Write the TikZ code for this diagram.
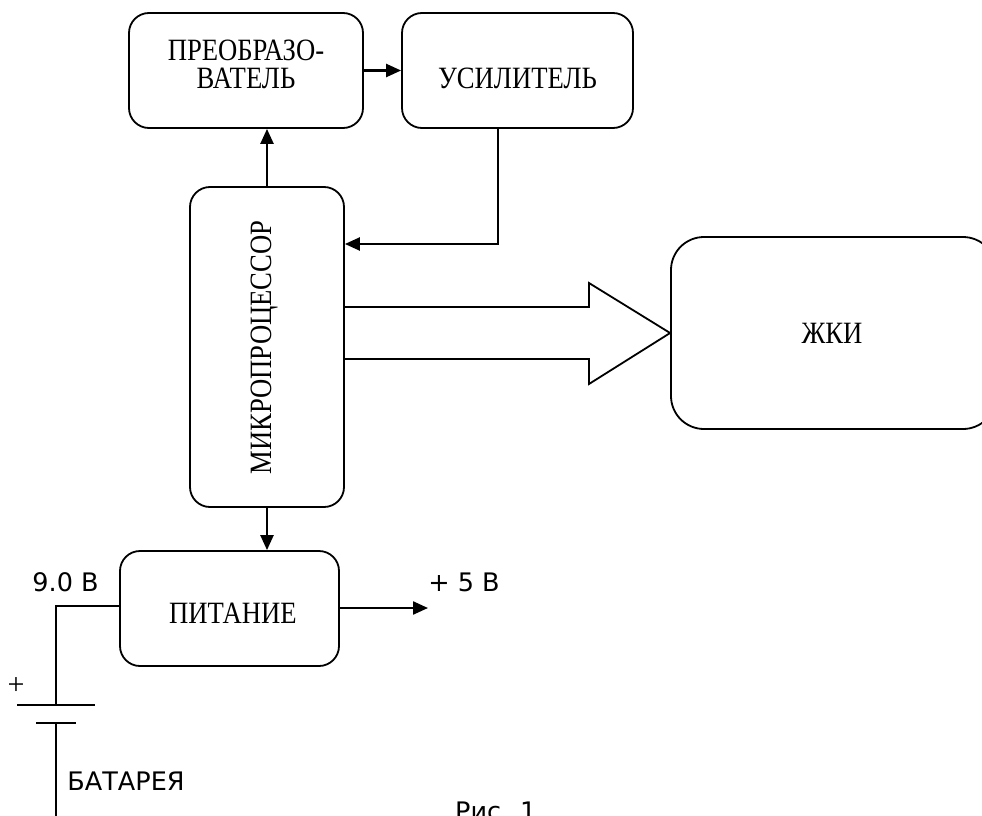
\documentclass[tikz,border=0pt]{standalone}
\usepackage{fontspec}
\setmainfont{Liberation Serif}
\newfontfamily\bxfont[FakeStretch=0.86]{Liberation Serif}
\newfontfamily\labfont{DejaVu Sans}
\usetikzlibrary{arrows.meta}
\begin{document}
\begin{tikzpicture}[x=1pt,y=-1pt,
  blk/.style={draw,line width=1.8pt,rounded corners=20pt,inner sep=0pt},
  btxt/.style={font=\bxfont\fontsize{31}{28}\selectfont,inner sep=0pt,align=center},
  ltxt/.style={font=\labfont\fontsize{25.5}{27}\selectfont,inner sep=0pt},
  arr/.style={line width=2.3pt,-{Triangle[length=15pt,width=13pt]}},
  wire/.style={line width=1.8pt},
  bat/.style={line width=1.7pt}]
\useasboundingbox (0,0) rectangle (982,816);
% blocks
\node[blk,minimum width=234pt,minimum height=115pt] (conv) at (246,70.5) {};
\node[btxt] (convt) at (246,64) {ПРЕОБРАЗО-\\ВАТЕЛЬ};
\node[blk,minimum width=231pt,minimum height=115pt] (amp) at (517.5,70.5) {};
\node[btxt] (ampt) at (517.5,78) {УСИЛИТЕЛЬ};
\node[blk,minimum width=154pt,minimum height=320pt] (mp) at (267,347) {};
\node[btxt,rotate=90] (mpt) at (264.5,347.5) {МИКРОПРОЦЕССОР};
\node[blk,minimum width=219pt,minimum height=115pt] (pit) at (229.5,608.5) {};
\node[btxt] (pitt) at (233,613) {ПИТАНИЕ};
\node[blk,rounded corners=33pt,minimum width=325pt,minimum height=192pt] (lcd) at (833.5,333) {};
\node[btxt] (lcdt) at (832,333) {ЖКИ};
% connectors
\draw[arr] (conv.east) -- (amp.west);
\draw[arr] (mp.north) -- (mp.north |- conv.south);
\draw[arr] ([xshift=-19.5pt]amp.south) |- ([yshift=103pt]mp.east);
\draw[arr] (mp.south) -- (mp.south |- pit.north);
\coordinate (out5) at (428,608);
\draw[arr] (pit.east |- out5) -- (out5);
% big bus arrow
\draw[line width=1.8pt,line join=miter] (mp.east |- 0,307) -- (589,307) -- (589,283) -- (lcd.west) -- (589,384) -- (589,359) -- (mp.east |- 0,359);
% battery
\coordinate (bt) at (56,606);
\coordinate (bp) at (56,705);
\coordinate (bn) at (56,723);
\coordinate (bb) at (56,830);
\draw[wire] (pit.west |- bt) -- (bt) -- (bp);
\draw[bat] (17,705) -- (95,705);
\draw[bat] (36,723) -- (76,723);
\draw[bat] (bn) -- (bb);
% labels
\node[ltxt] (v9) at (65.5,582) {9.0 В};
\node[ltxt] (v5) at (464,582) {+ 5 В};
\node[font=\rmfamily\fontsize{30}{30}\selectfont,inner sep=0pt] (plus) at (16,686) {+};
\node[ltxt] (batl) at (126,781) {БАТАРЕЯ};
\node[ltxt,anchor=north west] (fig) at (455,802) {Рис. 1};
\end{tikzpicture}
\end{document}
